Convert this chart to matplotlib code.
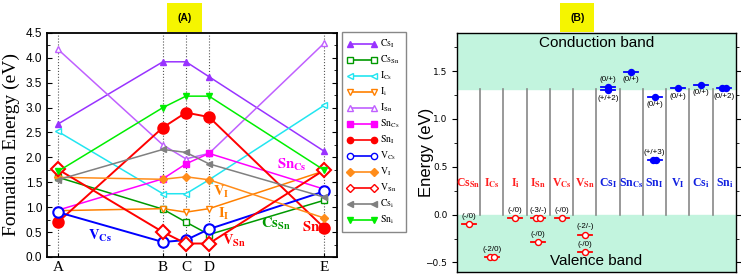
import matplotlib.pyplot as plt
from matplotlib.lines import Line2D
from matplotlib.ticker import MultipleLocator

plt.rcParams['mathtext.fontset'] = 'stix'

# ---- panel A data: formation energy along chemical potential points ----
points = ['A', 'B', 'C', 'D', 'E']
point_pos = [0, 1.0, 1.22, 1.44, 2.54]

Cs_I = [2.67, 3.92, 3.92, 3.62, 2.12]
Cs_Sn = [1.60, 0.96, 0.70, 0.45, 1.14]
I_Cs = [2.52, 1.27, 1.27, 1.55, 3.05]
I_i = [0.93, 0.97, 0.90, 0.97, 1.73]
I_Sn = [4.17, 2.25, 1.97, 2.08, 4.30]
Sn_Cs = [0.94, 1.57, 1.87, 2.08, 1.36]
Sn_I = [0.70, 2.60, 2.90, 2.81, 0.58]
V_Cs = [0.90, 0.30, 0.34, 0.56, 1.32]
V_I = [1.60, 1.56, 1.61, 1.55, 0.78]
V_Sn = [1.76, 0.50, 0.27, 0.27, 1.75]
Cs_i = [1.55, 2.16, 2.10, 1.87, 1.20]
Sn_i = [1.72, 3.00, 3.23, 3.23, 1.74]

series = [
    (r'$\mathrm{Cs_I}$', Cs_I, '#9933FF', '^', True),
    (r'$\mathrm{Cs_{Sn}}$', Cs_Sn, '#009900', 's', False),
    (r'$\mathrm{I_{Cs}}$', I_Cs, '#22E5F0', '<', False),
    (r'$\mathrm{I_i}$', I_i, '#FF8000', 'v', False),
    (r'$\mathrm{I_{Sn}}$', I_Sn, '#C060FF', '^', False),
    (r'$\mathrm{Sn_{Cs}}$', Sn_Cs, '#FF00FF', 's', True),
    (r'$\mathrm{Sn_I}$', Sn_I, '#FF0000', 'o', True),
    (r'$\mathrm{V_{Cs}}$', V_Cs, '#0000FF', 'o', False),
    (r'$\mathrm{V_I}$', V_I, '#FF8C1A', 'D', True),
    (r'$\mathrm{V_{Sn}}$', V_Sn, '#FF0000', 'D', False),
    (r'$\mathrm{Cs_i}$', Cs_i, '#808080', '<', True),
    (r'$\mathrm{Sn_i}$', Sn_i, '#00EE00', 'v', True),
]
big = {r'$\mathrm{Sn_I}$', r'$\mathrm{V_{Cs}}$', r'$\mathrm{V_{Sn}}$'}

# ---- panel B data: transition levels ----
defects = [r'Cs$_{\mathbf{Sn}}$', r'I$_{\mathbf{Cs}}$', r'I$_{\mathbf{i}}$', r'I$_{\mathbf{Sn}}$',
           r'V$_{\mathbf{Cs}}$', r'V$_{\mathbf{Sn}}$', r'Cs$_{\mathbf{I}}$', r'Sn$_{\mathbf{Cs}}$',
           r'Sn$_{\mathbf{I}}$', r'V$_{\mathbf{I}}$', r'Cs$_{\mathbf{i}}$', r'Sn$_{\mathbf{i}}$']
acceptor = [True] * 6 + [False] * 6
cbm = 1.31

level_col = [0, 1, 2, 3, 3, 4, 5, 5, 6, 6, 7, 8, 8, 9, 10, 11]
level_E = [-0.10, -0.445, -0.04, -0.04, -0.29, -0.04, -0.21, -0.39,
           1.335, 1.30, 1.49, 1.23, 0.57, 1.32, 1.36, 1.32]
level_txt = ['(-/0)', '(-2/0)', '(-/0)', '(-3/-)', '(-/0)', '(-/0)', '(-2/-)', '(-/0)',
             '(0/+)', '(+/+2)', '(0/+)', '(0/+)', '(+/+3)', '(0/+)', '(0/+)', '(0/+2)']
level_above = [True, True, True, True, True, True, True, True,
               True, False, False, False, True, False, False, False]
level_double = [False, True, False, True, False, False, False, False,
                False, False, False, False, True, False, False, True]

fig = plt.figure(figsize=(7.41, 2.79), dpi=100)

# ================= panel A =================
ax = fig.add_axes([0.0634, 0.079, 0.391, 0.803])
for p in point_pos:
    ax.axvline(p, color='#555555', ls=':', lw=0.8, zorder=0)
handles = []
for name, vals, col, mk, filled in series:
    ms = 7.5 if name in big else 4.5
    ax.plot(point_pos, vals, color=col, lw=1.4 if name in big else 1.1, marker=mk, ms=ms,
            mfc=col if filled else 'white', mec=col, mew=1.5 if name in big else 1.0)
    handles.append(Line2D([], [], color=col, lw=1.2, marker=mk, ms=4.5,
                          mfc=col if filled else 'white', mec=col))

ax.set_xlim(-0.105, 2.657)
ax.set_ylim(0, 4.5)
ax.set_xticks(point_pos)
ax.set_xticklabels(points, family='Liberation Serif', fontsize=11)
ax.yaxis.set_major_locator(MultipleLocator(0.5))
ax.yaxis.set_minor_locator(MultipleLocator(0.25))
ax.tick_params(axis='y', which='both', direction='in', right=True, labelsize=8.5)
ax.tick_params(axis='x', direction='in', length=3, pad=3)
for lab in ax.get_yticklabels():
    lab.set_family('Liberation Sans')
for s in ax.spines.values():
    s.set_linewidth(1.3)
ax.set_ylabel('Formation Energy (eV)', family='Liberation Serif', fontsize=14, labelpad=4)

notes = [
    (r'$\mathbf{V_{Cs}}$', 0.40, 0.42, '#0000FF'),
    (r'$\mathbf{V_I}$', 1.56, 1.30, '#FF8000'),
    (r'$\mathbf{I_I}$', 1.58, 0.86, '#FF8000'),
    (r'$\mathbf{V_{Sn}}$', 1.68, 0.32, '#FF0000'),
    (r'$\mathbf{Cs_{Sn}}$', 2.08, 0.66, '#009900'),
    (r'$\mathbf{Sn_{Cs}}$', 2.23, 1.85, '#FF00FF'),
    (r'$\mathbf{Sn_I}$', 2.43, 0.58, '#FF0000'),
]
for t, x, y, c in notes:
    ax.text(x, y, t, color=c, fontsize=10.5, ha='center', va='center')

leg = fig.legend(handles, [s[0] for s in series], loc='upper left',
                 bbox_to_anchor=(0.461, 0.885), numpoints=2, fontsize=7,
                 handlelength=3.0, handletextpad=0.4, labelspacing=0.36, borderpad=0.6,
                 borderaxespad=0, fancybox=False, edgecolor='#888888', framealpha=1)
leg.get_frame().set_linewidth(1.0)

fig.text(0.249, 0.937, '(A)', fontsize=7.5, weight='bold', ha='center', va='center',
         family='Liberation Sans',
         bbox=dict(boxstyle='square,pad=0.95', fc='#F5F500', ec='none'))

# ================= panel B =================
bx = fig.add_axes([0.6167, 0.025, 0.3765, 0.857])
ncol = len(defects)
bx.set_xlim(0, ncol)
bx.set_ylim(-0.6, 1.9)
bx.axhspan(cbm, 1.9, color='#C2F4DE', zorder=0)
bx.axhspan(-0.6, 0, color='#C2F4DE', zorder=0)
for i in range(1, ncol):
    bx.plot([i, i], [0, cbm], color='#888888', lw=1.2, zorder=1)

for i, (d, acc) in enumerate(zip(defects, acceptor)):
    bx.text(i + 0.5, 0.33, d, color='#FF2020' if acc else '#1020E0', fontsize=8.5,
            weight='bold', family='Liberation Serif', ha='center', va='center')

for c, e, t, above, dbl in zip(level_col, level_E, level_txt, level_above, level_double):
    col = '#FF0000' if acceptor[c] else '#0000FF'
    bx.plot([c + 0.2, c + 0.8], [e, e], color=col, lw=1.3, zorder=3)
    xs = [c + 0.42, c + 0.58] if dbl else [c + 0.5]
    bx.plot(xs, [e] * len(xs), ls='none', marker='o', ms=4.3,
            mfc='white' if acceptor[c] else col, mec=col, mew=1.0, zorder=4)
    bx.text(c + 0.5, e + (0.045 if above else -0.045), t, fontsize=5.8,
            family='Liberation Sans', ha='center', va='bottom' if above else 'top')

bx.text(0.5, 1.79, 'Conduction band', transform=bx.get_yaxis_transform(),
        fontsize=11, family='Liberation Sans', ha='center', va='center')
bx.text(0.5, -0.48, 'Valence band', transform=bx.get_yaxis_transform(),
        fontsize=11, family='Liberation Sans', ha='center', va='center')

bx.set_xticks([])
bx.yaxis.set_major_locator(MultipleLocator(0.5))
bx.yaxis.set_minor_locator(MultipleLocator(0.25))
bx.tick_params(axis='y', which='both', direction='out', right=True, labelsize=6.5)
bx.tick_params(axis='y', which='minor', length=2)
for s in bx.spines.values():
    s.set_linewidth(1.0)
bx.set_ylabel('Energy (eV)', family='Liberation Sans', fontsize=12)
bx.yaxis.set_label_coords(-0.082, 0.5)

fig.text(0.779, 0.937, '(B)', fontsize=7.5, weight='bold', ha='center', va='center',
         family='Liberation Sans',
         bbox=dict(boxstyle='square,pad=0.95', fc='#F5F500', ec='none'))

fig.savefig('out.png', dpi=100)
